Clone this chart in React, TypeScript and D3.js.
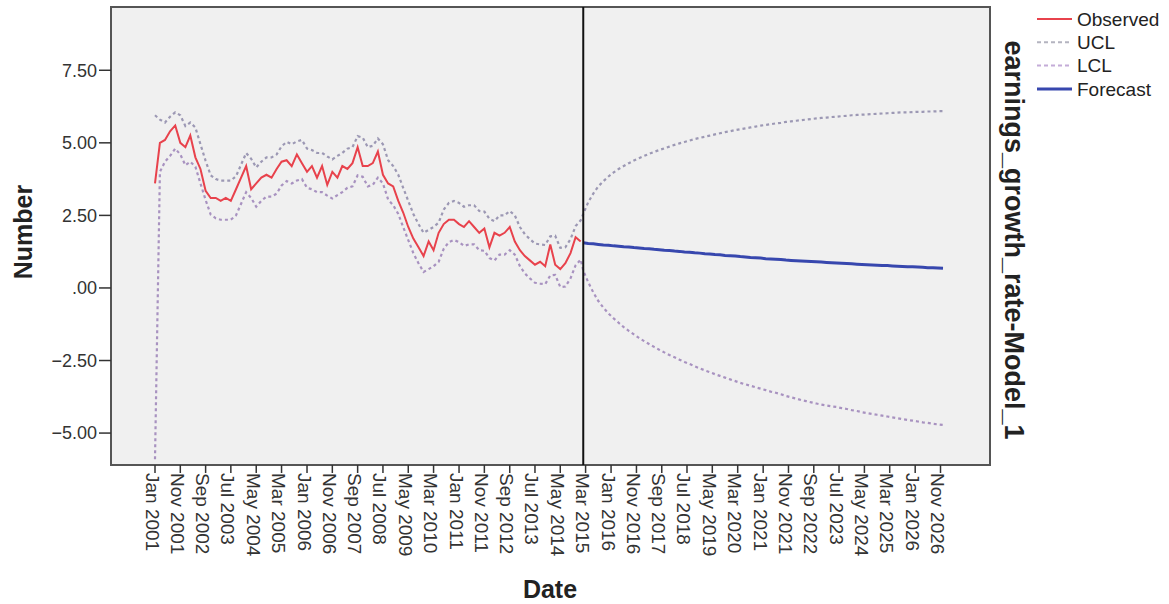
import React from 'react'
import * as d3 from 'd3'

// observed series, every second month from Jan 2001 to Jan 2015
const observed = [
  3.6, 5.0, 5.1, 5.4, 5.6, 5.0, 4.85, 5.25, 4.5, 4.1,
  3.35, 3.1, 3.1, 3.0, 3.1, 3.0, 3.4, 3.8, 4.2, 3.4,
  3.6, 3.8, 3.9, 3.8, 4.1, 4.35, 4.4, 4.2, 4.6, 4.3,
  4.0, 4.2, 3.8, 4.2, 3.55, 4.0, 3.8, 4.2, 4.1, 4.3,
  4.85, 4.2, 4.2, 4.3, 4.7, 3.9, 3.6, 3.5, 3.0, 2.6,
  2.1, 1.7, 1.4, 1.1, 1.6, 1.3, 1.9, 2.2, 2.35, 2.35,
  2.2, 2.1, 2.3, 2.1, 1.9, 2.05, 1.4, 1.9, 1.8, 1.9,
  2.1, 1.6, 1.3, 1.1, 0.95, 0.8, 0.9, 0.75, 1.5, 0.8,
  0.65, 0.85, 1.2, 1.75, 1.6,
]

const histUCL = [
  5.95, 5.8, 5.7, 5.9, 6.05, 5.95, 5.58, 5.7, 5.53, 4.95,
  4.38, 3.88, 3.75, 3.7, 3.7, 3.7, 3.85, 4.25, 4.65, 4.45,
  4.15, 4.35, 4.5, 4.5, 4.6, 4.88, 5.03, 4.95, 5.05, 5.1,
  4.8, 4.75, 4.65, 4.65, 4.53, 4.43, 4.55, 4.65, 4.8, 4.85,
  5.23, 5.18, 4.85, 4.9, 5.15, 4.95, 4.4, 4.2, 3.9, 3.45,
  3.0, 2.55, 2.2, 1.9, 2.0, 2.1, 2.25, 2.7, 2.93, 3.0,
  2.93, 2.8, 2.85, 2.85, 2.65, 2.63, 2.38, 2.3, 2.5, 2.5,
  2.65, 2.5, 2.1, 1.85, 1.68, 1.53, 1.5, 1.48, 1.78, 1.8,
  1.38, 1.4, 1.68, 2.13, 2.33,
]

const histLCL = [
  -5.9, 4.0, 4.35, 4.55, 4.8, 4.6, 4.23, 4.35, 4.18, 3.6,
  3.03, 2.53, 2.4, 2.35, 2.35, 2.35, 2.5, 2.9, 3.3, 3.1,
  2.8, 3.0, 3.15, 3.15, 3.25, 3.53, 3.68, 3.6, 3.7, 3.75,
  3.45, 3.4, 3.3, 3.3, 3.18, 3.08, 3.2, 3.3, 3.45, 3.5,
  3.88, 3.83, 3.5, 3.55, 3.8, 3.6, 3.05, 2.85, 2.55, 2.1,
  1.65, 1.2, 0.85, 0.55, 0.65, 0.75, 0.9, 1.35, 1.58, 1.65,
  1.58, 1.45, 1.5, 1.5, 1.3, 1.28, 1.03, 0.95, 1.15, 1.15,
  1.3, 1.15, 0.75, 0.5, 0.33, 0.18, 0.15, 0.13, 0.43, 0.45,
  0.03, 0.05, 0.33, 0.78, 0.98,
]

// forecast, every second month from Feb 2015 to Dec 2026
const forecast = [
  1.56, 1.53, 1.52, 1.5, 1.48, 1.47, 1.45, 1.44, 1.42, 1.41,
  1.39, 1.38, 1.36, 1.35, 1.33, 1.32, 1.3, 1.29, 1.27, 1.26,
  1.24, 1.23, 1.21, 1.2, 1.18, 1.17, 1.15, 1.14, 1.12, 1.11,
  1.1, 1.08, 1.07, 1.05, 1.04, 1.03, 1.01, 1.0, 0.99, 0.98,
  0.96, 0.95, 0.94, 0.93, 0.92, 0.91, 0.9, 0.89, 0.88, 0.87,
  0.86, 0.85, 0.84, 0.83, 0.82, 0.81, 0.8, 0.79, 0.78, 0.77,
  0.77, 0.76, 0.75, 0.74, 0.73, 0.73, 0.72, 0.71, 0.7, 0.7,
  0.69, 0.68,
]

const fcUCL = [
  2.55, 2.95, 3.25, 3.5, 3.68, 3.84, 3.98, 4.1, 4.2, 4.3,
  4.39, 4.47, 4.55, 4.62, 4.69, 4.75, 4.81, 4.87, 4.93, 4.98,
  5.03, 5.08, 5.13, 5.17, 5.21, 5.25, 5.29, 5.33, 5.37, 5.4,
  5.44, 5.47, 5.5, 5.53, 5.56, 5.59, 5.62, 5.64, 5.67, 5.69,
  5.72, 5.74, 5.76, 5.78, 5.8, 5.82, 5.84, 5.86, 5.87, 5.89,
  5.9, 5.92, 5.93, 5.95, 5.96, 5.97, 5.98, 5.99, 6.0, 6.01,
  6.02, 6.03, 6.04, 6.05, 6.05, 6.06, 6.07, 6.07, 6.08, 6.08,
  6.09, 6.09,
]

const fcLCL = [
  0.6, 0.2, -0.15, -0.45, -0.68, -0.88, -1.05, -1.2, -1.35, -1.48,
  -1.6, -1.72, -1.83, -1.93, -2.03, -2.13, -2.22, -2.31, -2.39, -2.47,
  -2.55, -2.62, -2.7, -2.77, -2.84, -2.9, -2.97, -3.03, -3.09, -3.15,
  -3.21, -3.27, -3.32, -3.37, -3.42, -3.47, -3.52, -3.57, -3.61, -3.66,
  -3.72, -3.77, -3.81, -3.86, -3.9, -3.94, -3.98, -4.02, -4.05, -4.08,
  -4.1, -4.14, -4.17, -4.21, -4.24, -4.28, -4.31, -4.34, -4.37, -4.4,
  -4.43, -4.46, -4.49, -4.52, -4.55, -4.57, -4.6, -4.63, -4.65, -4.68,
  -4.7, -4.72,
]

const xTickLabels = [
  'Jan 2001', 'Nov 2001', 'Sep 2002', 'Jul 2003', 'May 2004', 'Mar 2005',
  'Jan 2006', 'Nov 2006', 'Sep 2007', 'Jul 2008', 'May 2009', 'Mar 2010',
  'Jan 2011', 'Nov 2011', 'Sep 2012', 'Jul 2013', 'May 2014', 'Mar 2015',
  'Jan 2016', 'Nov 2016', 'Sep 2017', 'Jul 2018', 'May 2019', 'Mar 2020',
  'Jan 2021', 'Nov 2021', 'Sep 2022', 'Jul 2023', 'May 2024', 'Mar 2025',
  'Jan 2026', 'Nov 2026',
]
const yTicks = [7.5, 5, 2.5, 0, -2.5, -5]

const legendItems = [
  { label: 'Observed', color: '#e8424c', dash: null, width: 2 },
  { label: 'UCL', color: '#b4b4c0', dash: '4,3', width: 2 },
  { label: 'LCL', color: '#c4acd8', dash: '4,3', width: 2 },
  { label: 'Forecast', color: '#3747ae', dash: null, width: 3 },
]

const W = 1169
const H = 604
const plot = { left: 111, top: 7, right: 990, bottom: 465 }
const font = '"Liberation Sans", Arial, sans-serif'

type Pt = { date: Date; value: number }

export default function App() {
  const parse = d3.timeParse('%b %Y')
  const x = d3
    .scaleTime()
    .domain([new Date(2001, 0, 1), new Date(2026, 10, 1)])
    .range([155, 940.5])
  const y = d3.scaleLinear().domain([-6.1, 9.68]).range([plot.bottom, plot.top])

  const histDates = observed.map((_, i) => new Date(2001, 2 * i, 1))
  const fcDates = forecast.map((_, i) => new Date(2015, 1 + 2 * i, 1))
  const toPts = (dates: Date[], vals: number[]): Pt[] =>
    vals.map((v, i) => ({ date: dates[i], value: v }))

  const line = d3
    .line<Pt>()
    .x((d) => x(d.date))
    .y((d) => y(d.value))

  const obsPath = line(toPts(histDates, observed)) || ''
  const uclPath = line([...toPts(histDates, histUCL), ...toPts(fcDates, fcUCL)]) || ''
  const lclPath = line([...toPts(histDates, histLCL), ...toPts(fcDates, fcLCL)]) || ''
  const fcPath = line(toPts(fcDates, forecast)) || ''

  const fmtY = (v: number) => {
    const s = d3.format('.2f')(v)
    return s.replace(/^(-?)0\./, '$1.')
  }
  const splitX = x(new Date(2015, 1, 1))

  return (
    <svg
      width={W}
      height={H}
      style={{ position: 'absolute', left: 0, top: 0, background: '#fff' }}
      fontFamily={font}
    >
      <rect
        x={plot.left}
        y={plot.top}
        width={plot.right - plot.left}
        height={plot.bottom - plot.top}
        fill="#f0f0f0"
        stroke="#555"
        strokeWidth={2}
      />

      {/* y axis */}
      {yTicks.map((t) => (
        <g key={t} transform={`translate(0,${y(t)})`}>
          <line x1={99} x2={plot.left} stroke="#333" strokeWidth={1.5} />
          <text x={97} dy="0.35em" textAnchor="end" fontSize={18} fill="#333">
            {fmtY(t)}
          </text>
        </g>
      ))}

      {/* x axis */}
      {xTickLabels.map((lab) => {
        const px = x(parse(lab) as Date)
        return (
          <g key={lab}>
            <line x1={px} x2={px} y1={plot.bottom} y2={plot.bottom + 8} stroke="#333" strokeWidth={1.5} />
            <text
              transform={`translate(${px},${plot.bottom + 8}) rotate(90)`}
              dy="0.5em"
              fontSize={19}
              fill="#333"
            >
              {lab}
            </text>
          </g>
        )
      })}

      {/* series */}
      <path d={lclPath} fill="none" stroke="#a892c0" strokeWidth={2.2} strokeDasharray="3,3" />
      <path d={uclPath} fill="none" stroke="#9c98b4" strokeWidth={2.2} strokeDasharray="3,3" />
      <path d={obsPath} fill="none" stroke="#e8424c" strokeWidth={2} />
      <path d={fcPath} fill="none" stroke="#3747ae" strokeWidth={3} />

      <line x1={splitX} x2={splitX} y1={plot.top} y2={plot.bottom} stroke="#111" strokeWidth={2} />

      {/* titles */}
      <text x={550} y={598} textAnchor="middle" fontSize={25} fontWeight="bold" fill="#222">
        Date
      </text>
      <text
        transform="translate(23,232) rotate(-90)"
        textAnchor="middle"
        dy="0.35em"
        fontSize={25}
        fontWeight="bold"
        fill="#222"
      >
        Number
      </text>
      <text
        transform="translate(1014,240) rotate(90)"
        textAnchor="middle"
        dy="0.35em"
        fontSize={27}
        fontWeight="bold"
        fill="#222"
      >
        earnings_growth_rate-Model_1
      </text>

      {/* legend */}
      {legendItems.map((it, i) => {
        const ly = 19 + i * 23.3
        return (
          <g key={it.label}>
            <line
              x1={1037}
              x2={1072}
              y1={ly}
              y2={ly}
              stroke={it.color}
              strokeWidth={it.width}
              strokeDasharray={it.dash || undefined}
            />
            <text x={1077} y={ly} dy="0.35em" fontSize={19} fill="#222">
              {it.label}
            </text>
          </g>
        )
      })}
    </svg>
  )
}
